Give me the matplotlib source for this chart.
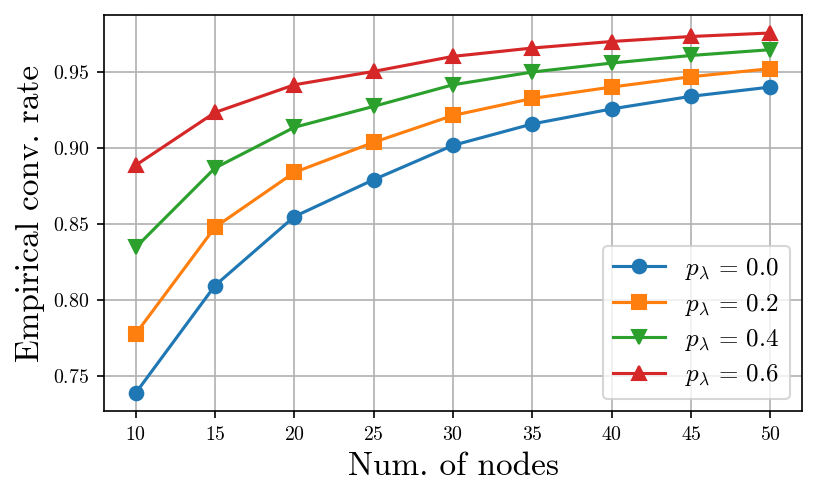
import matplotlib
matplotlib.use("Agg")
import matplotlib.pyplot as plt

plt.rcParams["font.family"] = "serif"
plt.rcParams["font.serif"] = ["cmr10", "DejaVu Serif"]
plt.rcParams["mathtext.fontset"] = "cm"
plt.rcParams["axes.formatter.use_mathtext"] = True

nodes = [10, 15, 20, 25, 30, 35, 40, 45, 50]
rate_p00 = [0.7386, 0.8094, 0.8548, 0.8791, 0.9017, 0.9158, 0.9257, 0.9340, 0.9401]
rate_p02 = [0.7776, 0.8478, 0.8839, 0.9037, 0.9214, 0.9326, 0.9401, 0.9469, 0.9522]
rate_p04 = [0.8345, 0.8868, 0.9136, 0.9274, 0.9416, 0.9500, 0.9559, 0.9609, 0.9647]
rate_p06 = [0.8886, 0.9234, 0.9416, 0.9504, 0.9603, 0.9658, 0.9701, 0.9734, 0.9757]

series = [
    (rate_p00, "o", r"$p_\lambda \,=\, 0.0$"),
    (rate_p02, "s", r"$p_\lambda \,=\, 0.2$"),
    (rate_p04, "v", r"$p_\lambda \,=\, 0.4$"),
    (rate_p06, "^", r"$p_\lambda \,=\, 0.6$"),
]

fig, ax = plt.subplots(figsize=(817 / 150, 498 / 150), dpi=150)
for vals, mk, lab in series:
    ax.plot(nodes, vals, marker=mk, markersize=6.5, linewidth=1.5, label=lab)

ax.grid(True, color="#b0b0b0", linewidth=0.8)
ax.set_axisbelow(True)
ax.set_xticks(nodes)
ax.tick_params(labelsize=9.5)
ax.set_xlabel("Num. of nodes", fontsize=16)
ax.set_ylabel("Empirical conv. rate", fontsize=16)
ax.legend(loc="lower right", fontsize=12, labelspacing=0.38, handlelength=2.1)

fig.subplots_adjust(left=104 / 817, right=802 / 817, top=1 - 15 / 498, bottom=1 - 411 / 498)
fig.savefig("out.png", dpi=150)
